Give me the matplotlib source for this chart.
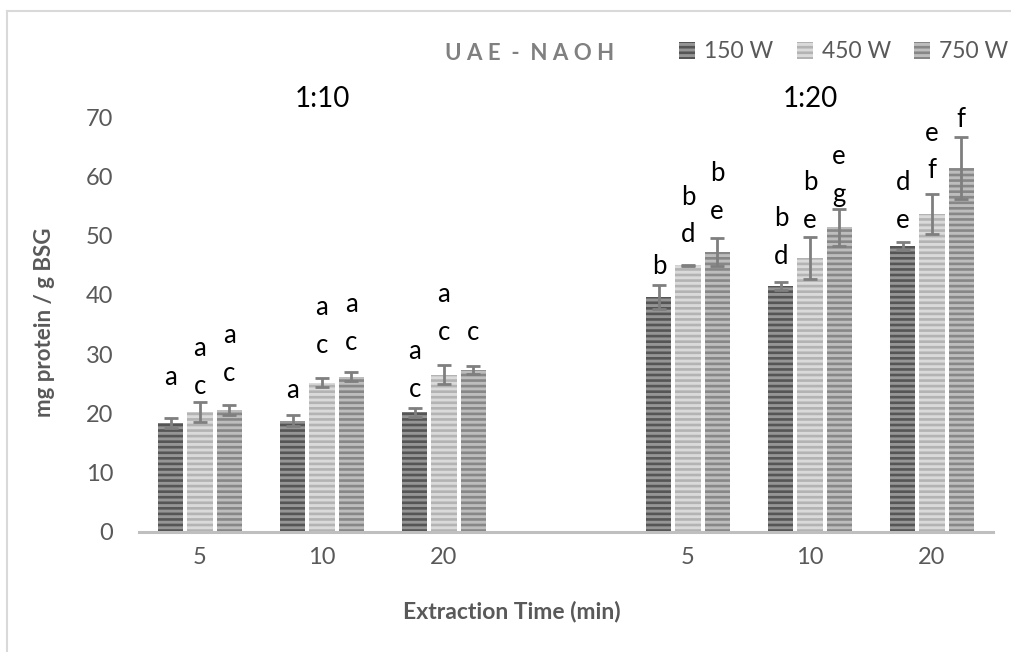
"""
UAE - NAOH: protein yield per extraction time, ratio and power
"""

import numpy as np
import matplotlib
matplotlib.use('Agg')
import matplotlib.pyplot as plt
from matplotlib.patches import Rectangle
from matplotlib.lines import Line2D

plt.rcParams['font.family'] = ['Lato', 'DejaVu Sans']
plt.rcParams['hatch.linewidth'] = 1.9

# data
times = ['5', '10', '20', '', '5', '10', '20']
powers = ['150 W', '450 W', '750 W']
ratios = ['1:10', '1:20']

w150 = [18.4, 18.8, 20.2, None, 39.6, 41.5, 48.2]
w450 = [20.2, 25.2, 26.5, None, 45.0, 46.2, 53.6]
w750 = [20.6, 26.2, 27.3, None, 47.2, 51.4, 61.4]

err150 = [0.9, 0.9, 0.8, None, 2.0, 0.7, 0.7]
err450 = [1.7, 0.7, 1.6, None, 0.1, 3.5, 3.4]
err750 = [0.9, 0.8, 0.7, None, 2.4, 3.1, 5.2]

# significance letters (top to bottom) and height of the top letter
let150 = ['a', 'a', 'ac', '', 'b', 'bd', 'de']
let450 = ['ac', 'ac', 'ac', '', 'bd', 'be', 'ef']
let750 = ['ac', 'ac', 'c', '', 'be', 'eg', 'f']
top150 = [26.1, 23.9, 30.4, None, 44.7, 52.8, 58.9]
top450 = [30.9, 37.9, 40.1, None, 56.5, 59.0, 67.3]
top750 = [33.2, 38.4, 33.7, None, 60.5, 63.4, 69.5]

values = [w150, w450, w750]
errors = [err150, err450, err750]
letters = [let150, let450, let750]
tops = [top150, top450, top750]

face = ['#959595', '#dadada', '#bdbdbd']
stripe = ['#555555', '#b3b3b3', '#878787']

fig = plt.figure(figsize=(10.11, 6.52), dpi=100)
ax = fig.add_axes([139 / 1011, 1 - 532 / 652, (993 - 139) / 1011, (532 - 117) / 652])

x = np.arange(len(times))
step = 0.238
width = 0.205
for k in range(3):
    idx = [i for i in x if values[k][i] is not None]
    xs = x[idx] + (k - 1) * step
    vals = [values[k][i] for i in idx]
    errs = [errors[k][i] for i in idx]
    ax.bar(xs, vals, width, color=face[k], edgecolor=stripe[k],
           hatch='---', linewidth=0, zorder=2)
    ax.errorbar(xs, vals, yerr=errs, fmt='none', ecolor='#7f7f7f',
                elinewidth=2, capsize=5, capthick=2, zorder=3)
    for j, i in enumerate(idx):
        for n, ch in enumerate(letters[k][i]):
            ax.text(xs[j], tops[k][i] - n * 6.4, ch, ha='center',
                    va='center', fontsize=18.5, color='black', clip_on=False)

ax.set_xlim(-0.5, len(times) - 0.5)
ax.set_ylim(0, 70)
ax.set_yticks(range(0, 71, 10))
ax.set_xticks(x[[0, 1, 2, 4, 5, 6]])
ax.set_xticklabels([times[i] for i in [0, 1, 2, 4, 5, 6]])
ax.tick_params(axis='both', length=0, labelsize=17, labelcolor='#595959')
ax.tick_params(axis='x', pad=11)
ax.tick_params(axis='y', pad=18.5)
for side in ['top', 'right', 'left']:
    ax.spines[side].set_visible(False)
ax.spines['bottom'].set_color('#bfbfbf')
ax.spines['bottom'].set_linewidth(2.2)

ax.text(1.0, 73.0, ratios[0], ha='center', va='center', fontsize=20, color='black')
ax.text(5.0, 73.0, ratios[1], ha='center', va='center', fontsize=20, color='black')

fig.text(512 / 1011, 1 - 612 / 652, 'Extraction Time (min)', ha='center', va='center',
         fontsize=16.5, fontweight='bold', color='#595959')
fig.text(45 / 1011, 1 - 322 / 652, 'mg protein / g BSG', ha='center', va='center',
         rotation=90, fontsize=16, fontweight='bold', color='#595959')
fig.text(530 / 1011, 1 - 54 / 652, 'U A E  -  N A O H', ha='center', va='center',
         fontsize=16, fontweight='bold', color='#808080')

handles = [Rectangle((0, 0), 1, 1, facecolor=face[k], edgecolor=stripe[k],
                     hatch='---', linewidth=0) for k in range(3)]
fig.legend(handles, powers, loc='center right', bbox_to_anchor=(1029 / 1011, 1 - 52 / 652),
           ncol=3, frameon=False, fontsize=16.5, labelcolor='#595959',
           handlelength=0.7, handleheight=0.7, handletextpad=0.4, columnspacing=1.0)

# light chart border (cropped at right and bottom)
fig.add_artist(Line2D([7 / 1011, 1], [1 - 11 / 652] * 2, color='#d9d9d9', lw=1.5))
fig.add_artist(Line2D([7 / 1011] * 2, [0, 1 - 11 / 652], color='#d9d9d9', lw=1.5))

plt.savefig('out.png', dpi=100)
